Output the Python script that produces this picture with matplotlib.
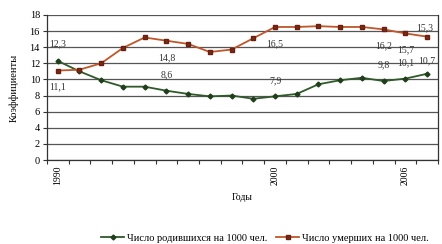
import numpy as np
import matplotlib
matplotlib.use('Agg')
import matplotlib.pyplot as plt

plt.rcParams['font.family'] = ['Liberation Serif', 'DejaVu Serif']

years = list(range(1990, 2008))
births = [12.3, 11.0, 9.9, 9.1, 9.1, 8.6, 8.2, 7.9, 8.0, 7.6, 7.9, 8.2,
          9.4, 9.9, 10.2, 9.8, 10.1, 10.7]
deaths = [11.1, 11.2, 12.0, 13.9, 15.2, 14.8, 14.4, 13.4, 13.7, 15.1, 16.5, 16.5,
          16.6, 16.5, 16.5, 16.2, 15.7, 15.3]
shown_years = [1990, 2000, 2006]
label_years = [1990, 1995, 2000, 2005, 2006, 2007]

x = np.arange(len(years))

fig = plt.figure(figsize=(4.42, 2.44), dpi=100)
ax = fig.add_axes([0.106, 0.344, 0.885, 0.595])

for y in range(0, 20, 2):
    ax.axhline(y, color='#555555', lw=0.9, zorder=1)

ax.plot(x, births, color='#2f5a2a', lw=1.3, marker='D', ms=2.5,
        mfc='#1f3f1a', mec='#1f3f1a', label='Число родившихся на 1000 чел.', zorder=3)
ax.plot(x, deaths, color='#c0562a', lw=1.3, marker='s', ms=3.5,
        mfc='#7a2a14', mec='#6a2010', label='Число умерших на 1000 чел.', zorder=3)

# подписи значений
def fmt(v):
    return str(v).replace('.', ',')

for yr in label_years:
    i = years.index(yr)
    b, d = births[i], deaths[i]
    if yr == 1990:
        ax.text(i, b + 1.6, fmt(b), ha='center', va='bottom', fontsize=7, color='#333333')
        ax.text(i, d - 1.4, fmt(d), ha='center', va='top', fontsize=7, color='#333333')
        continue
    if yr == 2007:
        ax.text(i - 0.1, d + 0.5, fmt(d), ha='center', va='bottom', fontsize=7, color='#333333')
        ax.text(i, b + 1.0, fmt(b), ha='center', va='bottom', fontsize=7, color='#333333')
    else:
        ax.text(i, d - 1.5, fmt(d), ha='center', va='top', fontsize=7, color='#333333')
        ax.text(i, b + 1.4, fmt(b), ha='center', va='bottom', fontsize=7, color='#333333')

ax.set_xlim(-0.5, len(years) - 0.5)
ax.set_ylim(0, 18)
ax.set_yticks(range(0, 20, 2))
ax.set_xticks([years.index(y) for y in shown_years])
ax.set_xticklabels([str(y) for y in shown_years], rotation=90)
ax.set_xticks(np.arange(-0.5, len(years), 1), minor=True)
ax.tick_params(axis='x', which='major', length=0, labelsize=7, pad=4)
ax.tick_params(axis='x', which='minor', length=3, width=0.8, color='#333333')
ax.tick_params(axis='y', length=3, width=0.8, labelsize=7.5, pad=2, color='#333333')
for s in ['left', 'bottom', 'right']:
    ax.spines[s].set_color('#333333')
    ax.spines[s].set_linewidth(0.9)
ax.spines['top'].set_visible(False)

ax.set_ylabel('Коэффициенты', fontsize=7.5, labelpad=8)
ax.set_xlabel('Годы', fontsize=7, labelpad=6)

fig.legend(loc='center', bbox_to_anchor=(0.6, 0.025), ncol=2, frameon=False,
           fontsize=7.5, handlelength=2.2, columnspacing=0.8, handletextpad=0.3)

fig.savefig('out.png', dpi=100)
